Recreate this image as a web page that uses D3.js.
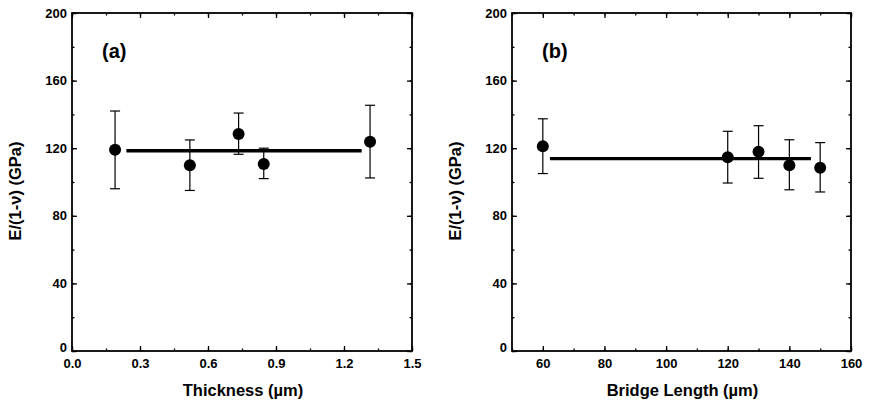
<!DOCTYPE html>
<html>
<head>
<meta charset="utf-8">
<script src="https://cdn.jsdelivr.net/npm/d3@7"></script>
<style>
  body { margin: 0; background: #fff; }
  svg { display: block; font-family: "Liberation Sans", Arial, sans-serif; }
  .tick text { font-weight: bold; font-size: 13px; fill: #000; }
</style>
</head>
<body>
<svg id="chart" width="873" height="402"></svg>
<script>
// panel (a): thickness
var thickX = [0.19, 0.52, 0.735, 0.846, 1.315];
var thickY = [119.1, 109.9, 128.4, 110.7, 123.8];
var thickHi = [142, 124.9, 140.8, 120, 145.4];
var thickLo = [96, 95, 116.4, 102, 102.4];
var thickFitX = [0.24, 1.278];
var thickFitY = 118.5;

// panel (b): bridge length
var lenX = [60, 120, 130, 140, 150];
var lenY = [121.1, 114.6, 117.9, 109.9, 108.5];
var lenHi = [137.4, 130, 133.3, 125, 123.3];
var lenLo = [105, 99.4, 102.2, 95.4, 94.1];
var lenFitX = [62.3, 147];
var lenFitY = 113.8;

var yTicks = [0, 40, 80, 120, 160, 200];
var thickTicks = [0, 0.3, 0.6, 0.9, 1.2, 1.5];
var lenTicks = [60, 80, 100, 120, 140, 160];

var svg = d3.select("#chart");

function panel(o) {
  var x = d3.scaleLinear().domain(o.xDomain).range([o.left, o.right]);
  var y = d3.scaleLinear().domain([0, 200]).range([351, 13]);
  var g = svg.append("g");

  // minor ticks first (no labels)
  var xMinor = d3.range(o.xDomain[0], o.xDomain[1] + 1e-9, o.xMinorStep);
  var yMinor = d3.range(0, 200.001, 20);
  g.append("g").attr("transform", "translate(0,351)")
    .call(d3.axisBottom(x).tickValues(xMinor).tickSize(-2.5).tickFormat(""));
  g.append("g").attr("transform", "translate(0,13)")
    .call(d3.axisTop(x).tickValues(xMinor).tickSize(-2.5).tickFormat(""));
  g.append("g").attr("transform", "translate(" + o.left + ",0)")
    .call(d3.axisLeft(y).tickValues(yMinor).tickSize(-2.5).tickFormat(""));
  g.append("g").attr("transform", "translate(" + o.right + ",0)")
    .call(d3.axisRight(y).tickValues(yMinor).tickSize(-2.5).tickFormat(""));

  // major ticks with labels
  g.append("g").attr("transform", "translate(0,351)")
    .call(d3.axisBottom(x).tickValues(o.xTicks).tickSize(-5).tickPadding(8).tickFormat(o.fmt));
  var yl = g.append("g").attr("transform", "translate(" + o.left + ",0)")
    .call(d3.axisLeft(y).tickValues(yTicks).tickSize(-5).tickPadding(5).tickFormat(d3.format("d")));
  // the zero label sits a little higher, as in the original
  yl.selectAll(".tick text").filter(function (d) { return d === 0; }).attr("dy", "0.05em");
  g.append("g").attr("transform", "translate(0,13)")
    .call(d3.axisTop(x).tickValues(o.xTicks).tickSize(-5).tickFormat(""));
  g.append("g").attr("transform", "translate(" + o.right + ",0)")
    .call(d3.axisRight(y).tickValues(yTicks).tickSize(-5).tickFormat(""));

  g.selectAll(".domain").remove();
  g.selectAll(".tick line").attr("stroke", "#000").attr("stroke-width", 1.3);

  // frame
  g.append("rect")
    .attr("x", o.left).attr("y", 13)
    .attr("width", o.right - o.left).attr("height", 338)
    .attr("fill", "none").attr("stroke", "#000").attr("stroke-width", 1.8);

  // fit line
  g.append("line")
    .attr("x1", x(o.fitX[0])).attr("x2", x(o.fitX[1]))
    .attr("y1", y(o.fitY)).attr("y2", y(o.fitY))
    .attr("stroke", "#000").attr("stroke-width", 3.3);

  var pts = o.xs.map(function (d, i) {
    return { x: d, y: o.ys[i], hi: o.hi[i], lo: o.lo[i] };
  });

  // error bars
  var eb = g.append("g").attr("stroke", "#000").attr("stroke-width", 1.2);
  pts.forEach(function (p) {
    eb.append("line").attr("x1", x(p.x)).attr("x2", x(p.x)).attr("y1", y(p.hi)).attr("y2", y(p.lo));
    eb.append("line").attr("x1", x(p.x) - 5).attr("x2", x(p.x) + 5).attr("y1", y(p.hi)).attr("y2", y(p.hi));
    eb.append("line").attr("x1", x(p.x) - 5).attr("x2", x(p.x) + 5).attr("y1", y(p.lo)).attr("y2", y(p.lo));
  });

  g.selectAll("circle.pt").data(pts).enter().append("circle")
    .attr("class", "pt")
    .attr("cx", function (d) { return x(d.x); })
    .attr("cy", function (d) { return y(d.y); })
    .attr("r", 6).attr("fill", "#000");

  // panel tag
  g.append("text").attr("x", o.left + 30).attr("y", 58)
    .attr("font-size", "20px").attr("font-weight", "bold").text(o.tag);

  // axis titles
  g.append("text")
    .attr("x", (o.left + o.right) / 2 + 1).attr("y", 396)
    .attr("text-anchor", "middle").attr("font-size", "16.5px").attr("font-weight", "bold")
    .text(o.xTitle);
  g.append("text")
    .attr("transform", "translate(" + (o.left - 51) + ",191) rotate(-90)")
    .attr("text-anchor", "middle").attr("font-size", "16.5px").attr("font-weight", "bold")
    .text("E/(1-\u03bd) (GPa)");
}

panel({
  left: 72, right: 412, xDomain: [0, 1.5], xMinorStep: 0.15,
  xTicks: thickTicks, fmt: d3.format(".1f"),
  xs: thickX, ys: thickY, hi: thickHi, lo: thickLo,
  fitX: thickFitX, fitY: thickFitY,
  tag: "(a)", xTitle: "Thickness (\u00b5m)"
});

panel({
  left: 512, right: 851, xDomain: [50, 160], xMinorStep: 10,
  xTicks: lenTicks, fmt: d3.format("d"),
  xs: lenX, ys: lenY, hi: lenHi, lo: lenLo,
  fitX: lenFitX, fitY: lenFitY,
  tag: "(b)", xTitle: "Bridge Length (\u00b5m)"
});
</script>
</body>
</html>
